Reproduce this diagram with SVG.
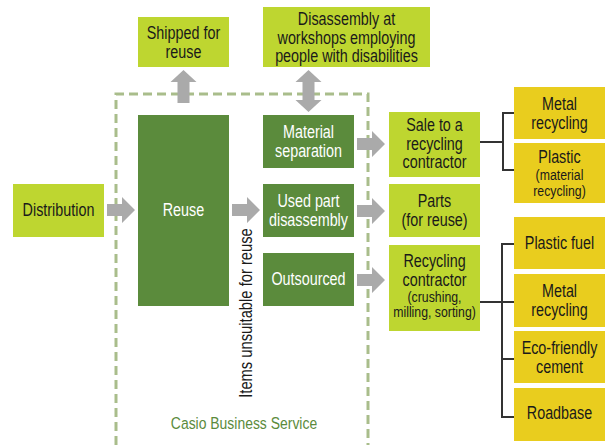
<svg xmlns="http://www.w3.org/2000/svg" width="606" height="445" viewBox="0 0 606 445">
<style>
text{font-family:"Liberation Sans",Arial,sans-serif;font-size:17.5px;text-anchor:middle;fill:#1a1a1a}
.lime{fill:#bed630}
.dark{fill:#5b8b3c}
.yel{fill:#e9cd1e}
.w{fill:#ffffff}
.s{font-size:15px}
.arr{fill:#aaaaaa}
.dash{fill:none;stroke:#a9bd8b;stroke-width:3;stroke-dasharray:9 5}
.br{fill:none;stroke:#333333;stroke-width:2}
</style>
<rect width="606" height="445" fill="#ffffff"/>
<g id="connectors">
<path class="dash" d="M116,445 V94 H368 V445"/>
<path class="arr" d="M107,204 H122 V197 L135,210 L122,223 V216 H107 Z"/>
<path class="arr" d="M232,204 H247 V197 L260,210 L247,223 V216 H232 Z"/>
<path class="arr" d="M357,138 H372 V131 L385,144 L372,157 V150 H357 Z"/>
<path class="arr" d="M357,205 H372 V198 L385,211 L372,224 V217 H357 Z"/>
<path class="arr" d="M357,274 H372 V267 L385,280 L372,293 V286 H357 Z"/>
<path class="arr" d="M177.5,103 V82 H170.5 L183.5,70 L196.5,82 H189.5 V103 Z"/>
<path class="arr" d="M302.5,82 H295.5 L308.5,70 L321.5,82 H314.5 V100 H321.5 L308.5,112 L295.5,100 H302.5 Z"/>
<path class="br" d="M480,142 H503 M514,113 H503 V170 H514"/>
<path class="br" d="M480,302 H502 M514,244 H502 V417 H514 M502,359 H514 M502,302 H514"/>
</g>
<g id="distribution"><rect class="lime" x="13" y="184" width="91" height="53"/><text transform="translate(58.5,216) scale(0.82,1)">Distribution</text></g>
<g id="shipped"><rect class="lime" x="138" y="17" width="91" height="50"/><text transform="translate(183.5,39) scale(0.82,1)">Shipped for</text><text transform="translate(183.5,57.5) scale(0.82,1)">reuse</text></g>
<g id="disassembly-workshops"><rect class="lime" x="263" y="7" width="167" height="60"/><text transform="translate(346.5,25) scale(0.82,1)">Disassembly at</text><text transform="translate(346.5,43.5) scale(0.82,1)">workshops employing</text><text transform="translate(346.5,62) scale(0.82,1)">people with disabilities</text></g>
<g id="reuse"><rect class="dark" x="138" y="115" width="91" height="191"/><text class="w" transform="translate(183.5,216) scale(0.82,1)">Reuse</text></g>
<g id="material-separation"><rect class="dark" x="263" y="115" width="91" height="53"/><text class="w" transform="translate(308.5,138) scale(0.82,1)">Material</text><text class="w" transform="translate(308.5,156.5) scale(0.82,1)">separation</text></g>
<g id="used-part"><rect class="dark" x="263" y="184" width="91" height="53"/><text class="w" transform="translate(308.5,207) scale(0.82,1)">Used part</text><text class="w" transform="translate(308.5,225.5) scale(0.82,1)">disassembly</text></g>
<g id="outsourced"><rect class="dark" x="263" y="253" width="91" height="53"/><text class="w" transform="translate(308.5,285) scale(0.82,1)">Outsourced</text></g>
<g id="sale"><rect class="lime" x="389" y="112" width="91" height="65"/><text transform="translate(434.5,131) scale(0.82,1)">Sale to a</text><text transform="translate(434.5,149.5) scale(0.82,1)">recycling</text><text transform="translate(434.5,168) scale(0.82,1)">contractor</text></g>
<g id="parts"><rect class="lime" x="389" y="184" width="91" height="53"/><text transform="translate(434.5,207) scale(0.82,1)">Parts</text><text transform="translate(434.5,225.5) scale(0.82,1)">(for reuse)</text></g>
<g id="recycling-contractor"><rect class="lime" x="389" y="245" width="91" height="86"/><text transform="translate(434.5,267) scale(0.82,1)">Recycling</text><text transform="translate(434.5,285.5) scale(0.82,1)">contractor</text><text class="s" transform="translate(434.5,302) scale(0.82,1)">(crushing,</text><text class="s" transform="translate(434.5,317) scale(0.82,1)">milling, sorting)</text></g>
<g id="metal-recycling-1"><rect class="yel" x="514" y="87" width="91" height="52"/><text transform="translate(559.5,110) scale(0.82,1)">Metal</text><text transform="translate(559.5,128.5) scale(0.82,1)">recycling</text></g>
<g id="plastic-material"><rect class="yel" x="514" y="143" width="91" height="60"/><text transform="translate(559.5,163) scale(0.82,1)">Plastic</text><text class="s" transform="translate(559.5,180) scale(0.82,1)">(material</text><text class="s" transform="translate(559.5,195.5) scale(0.82,1)">recycling)</text></g>
<g id="plastic-fuel"><rect class="yel" x="514" y="217" width="91" height="52"/><text transform="translate(559.5,249) scale(0.82,1)">Plastic fuel</text></g>
<g id="metal-recycling-2"><rect class="yel" x="514" y="274" width="91" height="53"/><text transform="translate(559.5,297) scale(0.82,1)">Metal</text><text transform="translate(559.5,315.5) scale(0.82,1)">recycling</text></g>
<g id="eco-cement"><rect class="yel" x="514" y="331" width="91" height="52"/><text transform="translate(559.5,354) scale(0.82,1)">Eco-friendly</text><text transform="translate(559.5,372.5) scale(0.82,1)">cement</text></g>
<g id="roadbase"><rect class="yel" x="514" y="388" width="91" height="53"/><text transform="translate(559.5,419) scale(0.82,1)">Roadbase</text></g>
<g id="labels">
<text transform="translate(252,313) rotate(-90) scale(0.82,1)" style="font-size:18px">Items unsuitable for reuse</text>
<text transform="translate(244,429) scale(0.82,1)" style="fill:#5b8b3c;font-size:17px">Casio Business Service</text>
</g>
</svg>
